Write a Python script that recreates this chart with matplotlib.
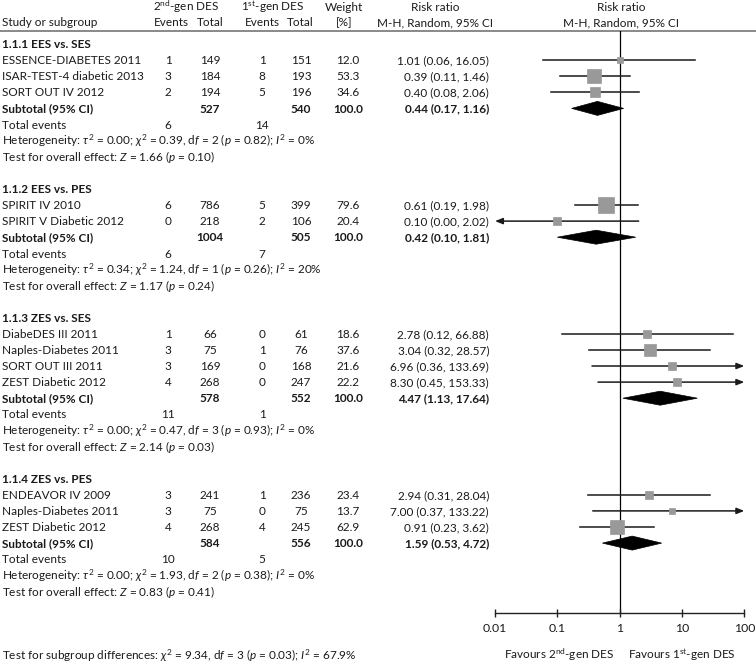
import matplotlib
matplotlib.use("Agg")
import matplotlib.pyplot as plt
from matplotlib.patches import Polygon
import numpy as np

plt.rcParams['font.family'] = ['Lato', 'DejaVu Sans']
plt.rcParams['mathtext.fontset'] = 'custom'
plt.rcParams['mathtext.rm'] = 'Lato'
plt.rcParams['mathtext.it'] = 'Lato:italic'
plt.rcParams['mathtext.bf'] = 'Lato:bold'

# ---------------- data ----------------
group_titles = ["1.1.1 EES vs. SES", "1.1.2 EES vs. PES", "1.1.3 ZES vs. SES", "1.1.4 ZES vs. PES"]
studies = [["ESSENCE-DIABETES 2011", "ISAR-TEST-4 diabetic 2013", "SORT OUT IV 2012"],
           ["SPIRIT IV 2010", "SPIRIT V Diabetic 2012"],
           ["DiabeDES III 2011", "Naples-Diabetes 2011", "SORT OUT III 2011", "ZEST Diabetic 2012"],
           ["ENDEAVOR IV 2009", "Naples-Diabetes 2011", "ZEST Diabetic 2012"]]
ev2 = [[1, 3, 2], [6, 0], [1, 3, 3, 4], [3, 3, 4]]
n2 = [[149, 184, 194], [786, 218], [66, 75, 169, 268], [241, 75, 268]]
ev1 = [[1, 8, 5], [5, 2], [0, 1, 0, 0], [1, 0, 4]]
n1 = [[151, 193, 196], [399, 106], [61, 76, 168, 247], [236, 75, 245]]
weight = [[12.0, 53.3, 34.6], [79.6, 20.4], [18.6, 37.6, 21.6, 22.2], [23.4, 13.7, 62.9]]
rr = [[1.01, 0.39, 0.40], [0.61, 0.10], [2.78, 3.04, 6.96, 8.30], [2.94, 7.00, 0.91]]
lo = [[0.06, 0.11, 0.08], [0.19, 0.00], [0.12, 0.32, 0.36, 0.45], [0.31, 0.37, 0.23]]
hi = [[16.05, 1.46, 2.06], [1.98, 2.02], [66.88, 28.57, 133.69, 153.33], [28.04, 133.22, 3.62]]
sub_n2 = [527, 1004, 578, 584]
sub_n1 = [540, 505, 552, 556]
sub_rr = [0.44, 0.42, 4.47, 1.59]
sub_lo = [0.17, 0.10, 1.13, 0.53]
sub_hi = [1.16, 1.81, 17.64, 4.72]
tot_ev2 = [6, 6, 11, 10]
tot_ev1 = [14, 7, 1, 5]
tau2 = ["0.00", "0.34", "0.00", "0.00"]
chi2 = ["0.39", "1.24", "0.47", "1.93"]
dfs = [2, 1, 3, 2]
het_p = ["0.82", "0.26", "0.93", "0.38"]
i2 = ["0%", "20%", "0%", "0%"]
zval = ["1.66", "1.17", "2.14", "0.83"]
z_p = ["0.10", "0.24", "0.03", "0.41"]
axis_ticks = [0.01, 0.1, 1, 10, 100]
tick_labels = ["0.01", "0.1", "1", "10", "100"]
subgroup_test = r"Test for subgroup differences: $\chi^2$ = 9.34, d$f$ = 3 ($p$ = 0.03); $I^2$ = 67.9%"

# ---------------- layout ----------------
W, H = 756, 665
FS = 8.5
TXT = '#1a1a1a'
SQ = '#999999'
ROW0, ROWH = 44, 16.1
CAP = 4.2            # half cap-height in px (text centre -> baseline)
X_LEFT, X_RIGHT = 495, 744.3
Y_TOP, Y_AXIS = 30.5, 613
C_EV2, C_N2, C_EV1, C_N1, C_W, X_RR = 168, 210, 262, 301, 348, 489

fig = plt.figure(figsize=(W / 100, H / 100), dpi=100)
tax = fig.add_axes([0, 0, 1, 1])
tax.set_xlim(0, W)
tax.set_ylim(H, 0)
tax.axis('off')

fax = fig.add_axes([X_LEFT / W, (H - Y_AXIS) / H, (X_RIGHT - X_LEFT) / W, (Y_AXIS - Y_TOP) / H])
fax.set_xscale('log')
fax.set_xlim(axis_ticks[0], axis_ticks[-1])
fax.set_ylim(Y_AXIS, Y_TOP)
fax.patch.set_alpha(0)
for s in ['left', 'right', 'top']:
    fax.spines[s].set_visible(False)
fax.spines['bottom'].set_color('#222222')
fax.spines['bottom'].set_linewidth(1.0)
fax.set_yticks([])
fax.set_xticks(axis_ticks)
fax.set_xticklabels(tick_labels)
fax.minorticks_off()
fax.tick_params(axis='x', direction='inout', length=6, width=1.0, color='#222222',
                labelsize=FS + 0.3, labelcolor=TXT, pad=4)
fax.axvline(1, color='black', lw=0.9, zorder=1)


def t(x, y, s, ha='left', bold=False, **kw):
    tax.text(x, y + CAP, s, ha=ha, va='baseline', fontsize=FS, color=TXT,
             fontweight='bold' if bold else 'normal', **kw)


# header
t(186, 7, r"2$^{\mathrm{nd}}$-gen DES", ha='center')
t(273, 7, r"1$^{\mathrm{st}}$-gen DES", ha='center')
t(344, 7, "Weight", ha='center')
t(435, 7, "Risk ratio", ha='center')
t(621, 7, "Risk ratio", ha='center')
t(2, 22, "Study or subgroup")
t(171, 22, "Events", ha='center')
t(210, 22, "Total", ha='center')
t(262, 22, "Events", ha='center')
t(300, 22, "Total", ha='center')
t(344, 22, "[%]", ha='center')
t(435, 22, "M-H, Random, 95% CI", ha='center')
t(621, 22, "M-H, Random, 95% CI", ha='center')
tax.plot([0, W], [Y_TOP, Y_TOP], color='#808080', lw=1.3)

row = 0
for g in range(len(group_titles)):
    y = ROW0 + ROWH * row
    t(2, y, group_titles[g], bold=True)
    row += 1
    for k in range(len(studies[g])):
        y = ROW0 + ROWH * row
        t(2, y, studies[g][k])
        t(C_EV2, y, str(ev2[g][k]), ha='center')
        t(C_N2, y, str(n2[g][k]), ha='center')
        t(C_EV1, y, str(ev1[g][k]), ha='center')
        t(C_N1, y, str(n1[g][k]), ha='center')
        t(C_W, y, f"{weight[g][k]:.1f}", ha='center')
        t(X_RR, y, f"{rr[g][k]:.2f} ({lo[g][k]:.2f}, {hi[g][k]:.2f})", ha='right')
        # CI
        l = max(lo[g][k], axis_ticks[0])
        h = min(hi[g][k], axis_ticks[-1])
        if lo[g][k] < axis_ticks[0]:
            fax.annotate('', xy=(l, y), xytext=(h, y), annotation_clip=False,
                         arrowprops=dict(arrowstyle='-|>,head_length=0.45,head_width=0.18',
                                         color='#1a1a1a', lw=1.1, shrinkA=0, shrinkB=0))
        elif hi[g][k] > axis_ticks[-1]:
            fax.annotate('', xy=(h, y), xytext=(l, y), annotation_clip=False,
                         arrowprops=dict(arrowstyle='-|>,head_length=0.45,head_width=0.18',
                                         color='#1a1a1a', lw=1.1, shrinkA=0, shrinkB=0))
        else:
            fax.plot([l, h], [y, y], color='#1a1a1a', lw=1.1, zorder=2)
        fax.plot([rr[g][k]], [y], marker='s', ms=1.3 * np.sqrt(weight[g][k]),
                 color=SQ, mec=SQ, mew=0.5, zorder=3, clip_on=False)
        row += 1
    # subtotal
    y = ROW0 + ROWH * row
    t(2, y, "Subtotal (95% CI)", bold=True)
    t(C_N2, y, str(sub_n2[g]), ha='center', bold=True)
    t(C_N1, y, str(sub_n1[g]), ha='center', bold=True)
    t(C_W, y, "100.0", ha='center', bold=True)
    t(X_RR, y, f"{sub_rr[g]:.2f} ({sub_lo[g]:.2f}, {sub_hi[g]:.2f})", ha='right', bold=True)
    dh = 7
    fax.add_patch(Polygon([(sub_lo[g], y), (sub_rr[g], y - dh), (sub_hi[g], y), (sub_rr[g], y + dh)],
                          closed=True, facecolor='black', edgecolor='black', lw=0.5, zorder=3))
    row += 1
    y = ROW0 + ROWH * row
    t(2, y, "Total events")
    t(C_EV2, y, str(tot_ev2[g]), ha='center')
    t(C_EV1, y, str(tot_ev1[g]), ha='center')
    row += 1
    y = ROW0 + ROWH * row
    t(2, y, r"Heterogeneity: $\tau^2$ = " + tau2[g] + r"; $\chi^2$ = " + chi2[g] +
      r", d$f$ = " + str(dfs[g]) + r" ($p$ = " + het_p[g] + r"); $I^2$ = " + i2[g])
    row += 1
    y = ROW0 + ROWH * row
    t(2, y, r"Test for overall effect: $Z$ = " + zval[g] + r" ($p$ = " + z_p[g] + ")")
    row += 2

t(614, 655, r"Favours 2$^{\mathrm{nd}}$-gen DES", ha='right')
t(628, 655, r"Favours 1$^{\mathrm{st}}$-gen DES", ha='left')
t(2, 656, subgroup_test)

fig.savefig("out.png", dpi=100)
